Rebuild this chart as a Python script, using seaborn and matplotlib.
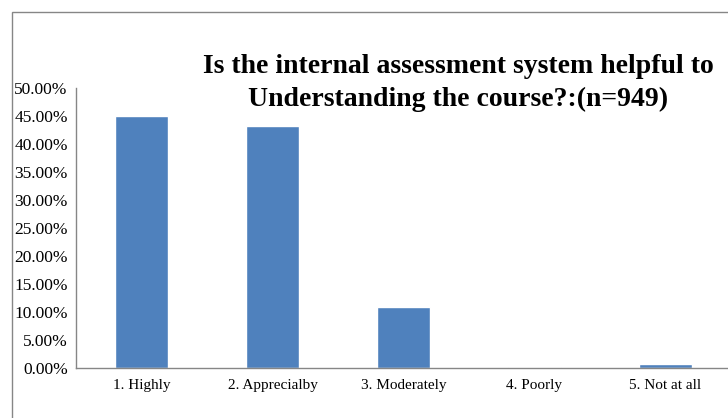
import numpy as np
import pandas as pd
import matplotlib
matplotlib.use("Agg")
import matplotlib.pyplot as plt
from matplotlib.patches import Rectangle
from matplotlib.ticker import FixedLocator, FuncFormatter
import seaborn as sns

# data (percent of n=949)
categories = ["1. Highly", "2. Apprecialby", "3. Moderately", "4. Poorly", "5. Not at all"]
percent = [45.0, 43.2, 10.85, 0.25, 0.74]
yticks = [0, 5, 10, 15, 20, 25, 30, 35, 40, 45, 50]

df = pd.DataFrame({"answer": categories, "pct": percent})

sns.set_style("white")
plt.rcParams["font.family"] = ["Liberation Serif", "DejaVu Serif"]

fig = plt.figure(figsize=(7.28, 4.18), dpi=100)
W, H = 728, 418
ax = fig.add_axes([76 / W, (H - 368) / H, (731 - 76) / W, (368 - 88) / H])

sns.barplot(data=df, x="answer", y="pct", color="#4F81BD", width=0.4,
            saturation=1, ax=ax)

ax.set_ylim(0, 50)
ax.set_xlim(-0.5, 4.5)
ax.yaxis.set_major_locator(FixedLocator(yticks))
ax.yaxis.set_major_formatter(FuncFormatter(lambda v, p: f"{v:.2f}%"))
ax.set_xlabel("")
ax.set_ylabel("")

# category boundaries get the tick marks, labels sit in between
ax.set_xticks(np.arange(len(categories)))
ax.set_xticklabels(categories)
ax.set_xticks(np.arange(len(categories) + 1) - 0.5, minor=True)
ax.tick_params(axis="x", which="major", length=0, pad=8, labelsize=11, labelcolor="black")
ax.tick_params(axis="x", which="minor", length=5, color="#868686", direction="out")
ax.tick_params(axis="y", length=5, color="#868686", direction="out", labelsize=12.5, pad=1,
               labelcolor="black")

for s in ["top", "right"]:
    ax.spines[s].set_visible(False)
for s in ["left", "bottom"]:
    ax.spines[s].set_color("#868686")
    ax.spines[s].set_linewidth(1)

fig.text(458 / W, 1 - 83 / H, "Is the internal assessment system helpful to\nUnderstanding the course?:(n=949)",
         ha="center", va="center", fontsize=20, fontweight="bold", linespacing=1.38, color="black")

# chart border
fig.patches.append(Rectangle((12 / W, -0.1), 1.1, 1 - 12 / H + 0.1, transform=fig.transFigure,
                             fill=False, edgecolor="#868686", linewidth=1))

fig.savefig("out.png", dpi=100)
